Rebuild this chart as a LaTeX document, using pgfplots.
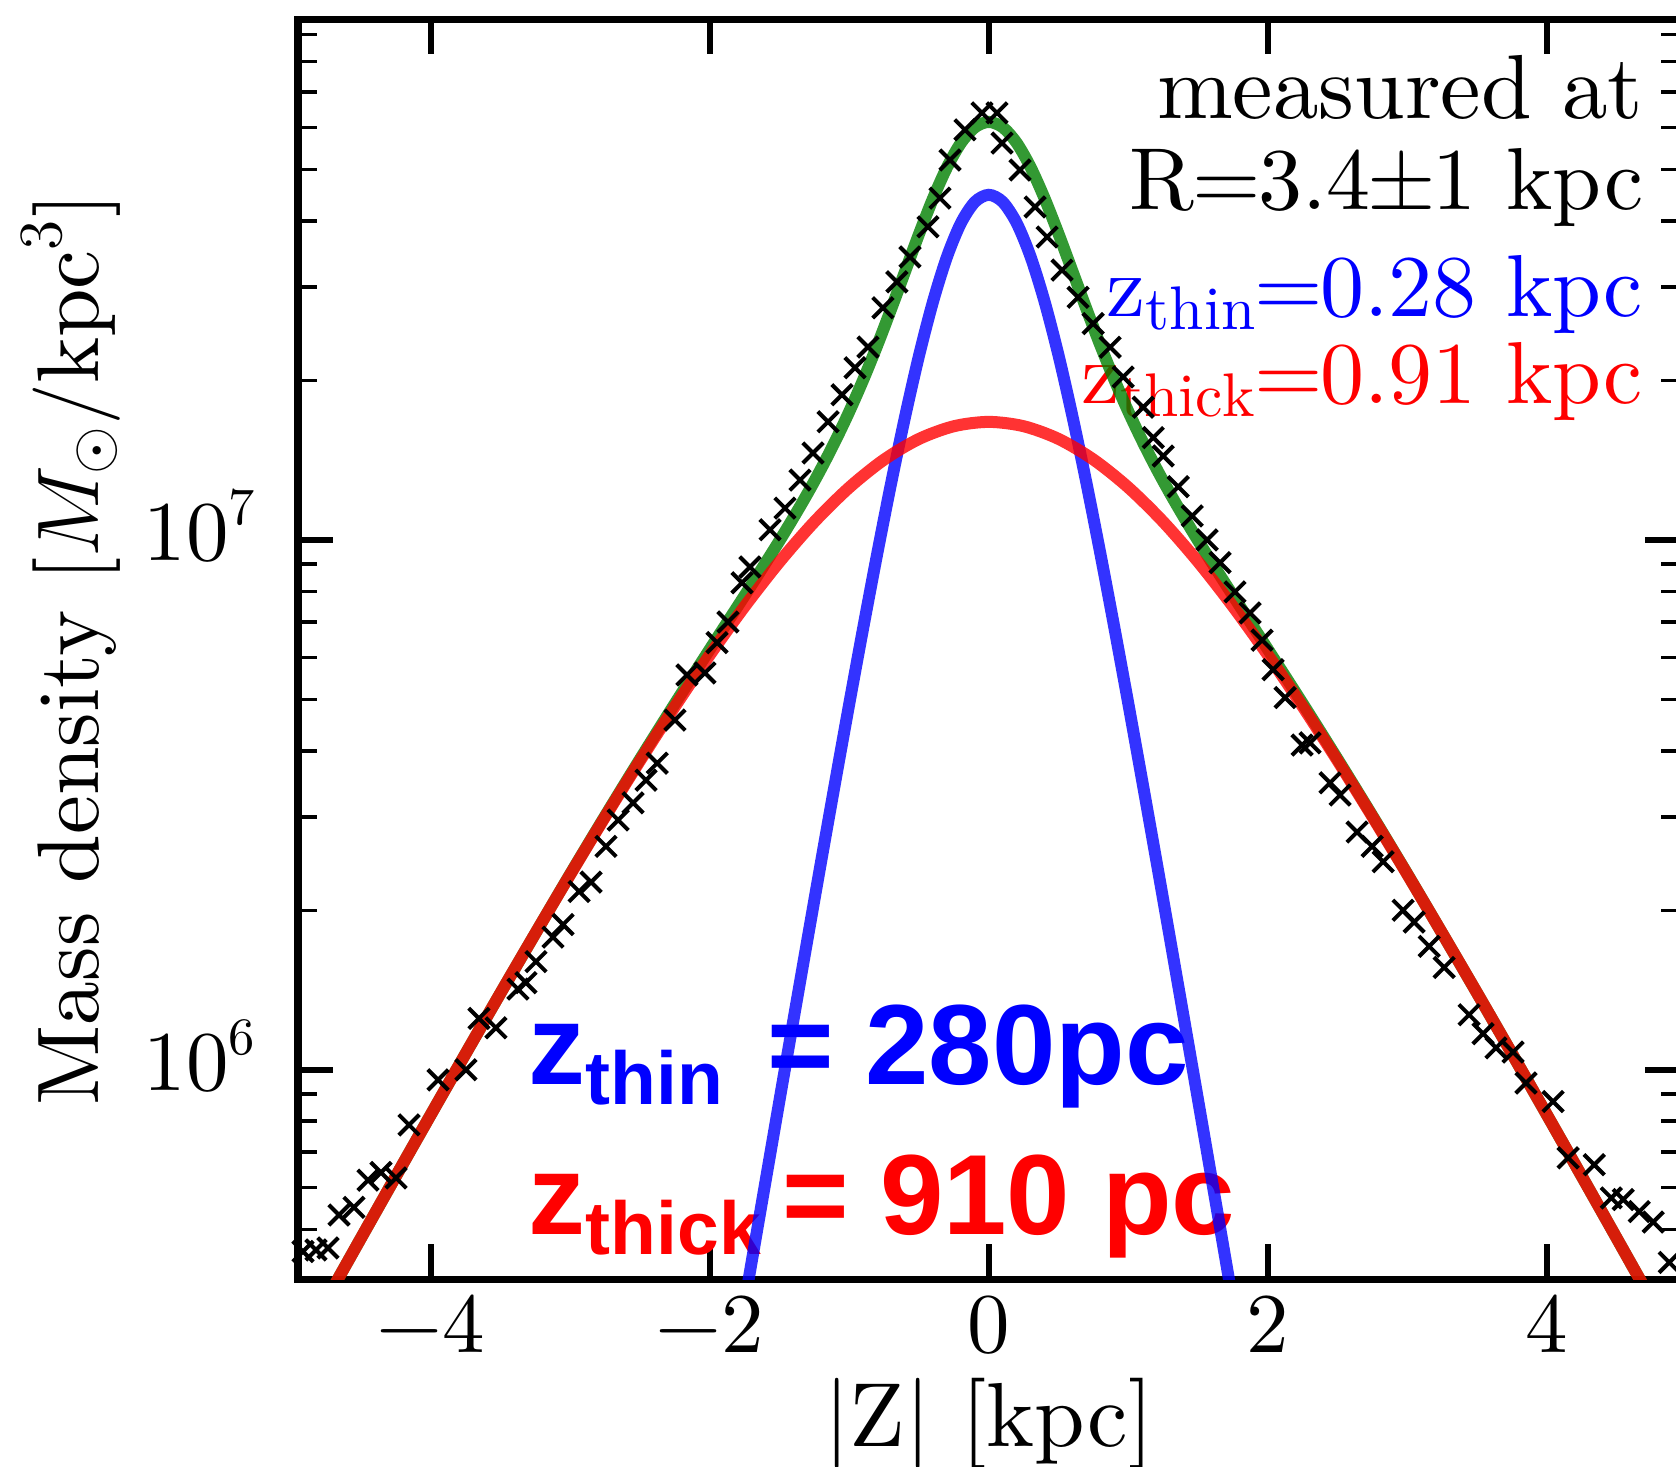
\RequirePackage{fix-cm}
\documentclass[border=0pt]{standalone}
\usepackage{fontspec}
\setmainfont{lmroman10-regular.otf}[BoldFont=lmroman10-bold.otf, ItalicFont=lmroman10-italic.otf]
\usepackage{pgfplots}
\pgfplotsset{compat=1.18}
\newfontfamily\hv{Liberation Sans}
\definecolor{mgreen}{rgb}{0,0.5,0}
\newcommand{\lab}{\fontsize{18.2}{21.8}\selectfont}
\newcommand{\alab}{\fontsize{17.6}{21}\selectfont}
\newcommand{\tlab}{\fontsize{17}{20}\selectfont}
\newcommand{\ylab}{\fontsize{17.5}{21}\selectfont}
\newcommand{\pw}[1]{10\raisebox{7.2pt}{\fontsize{10.5}{11}\selectfont #1}}
\newcommand{\bigz}{\hv\bfseries\fontsize{22.8}{26}\selectfont}
\newcommand{\subz}[1]{\raisebox{-4pt}{\fontsize{15}{17}\selectfont #1}}

% measured density profile (crosses)
\pgfplotstableread{
z rho
-4.916 4.54e5
-4.823 4.57e5
-4.737 4.61e5
-4.658 5.32e5
-4.551 5.50e5
-4.450 6.19e5
-4.357 6.40e5
-4.249 6.25e5
-4.156 7.87e5
-3.948 9.57e5
-3.748 1.00e6
-3.655 1.25e6
-3.533 1.20e6
-3.375 1.42e6
-3.318 1.46e6
-3.246 1.60e6
-3.124 1.78e6
-3.052 1.88e6
-2.937 2.17e6
-2.851 2.26e6
-2.744 2.64e6
-2.657 2.96e6
-2.550 3.19e6
-2.457 3.52e6
-2.377 3.79e6
-2.250 4.57e6
-2.164 5.56e6
-2.035 5.61e6
-1.948 6.40e6
-1.870 7.00e6
-1.769 8.30e6
-1.712 8.89e6
-1.568 1.045e7
-1.461 1.148e7
-1.353 1.297e7
-1.260 1.459e7
-1.152 1.671e7
-1.052 1.879e7
-0.959 2.113e7
-0.866 2.312e7
-0.759 2.742e7
-0.659 3.069e7
-0.565 3.420e7
-0.436 3.899e7
-0.350 4.416e7
-0.278 5.212e7
-0.171 5.943e7
-0.049 6.397e7
0.059 6.397e7
0.095 5.61e7
0.224 4.99e7
0.332 4.25e7
0.418 3.73e7
0.525 3.23e7
0.640 2.87e7
0.748 2.56e7
0.870 2.31e7
0.963 2.03e7
1.107 1.78e7
1.179 1.56e7
1.250 1.44e7
1.358 1.26e7
1.458 1.11e7
1.565 1.00e7
1.658 9.06e6
1.765 7.98e6
1.873 7.28e6
1.959 6.47e6
2.038 5.69e6
2.124 5.04e6
2.246 4.10e6
2.303 4.14e6
2.446 3.48e6
2.518 3.30e6
2.640 2.81e6
2.748 2.64e6
2.827 2.47e6
2.970 2.00e6
3.049 1.90e6
3.157 1.71e6
3.264 1.56e6
3.443 1.27e6
3.543 1.17e6
3.636 1.10e6
3.758 1.08e6
3.851 9.44e5
4.045 8.71e5
4.153 6.82e5
4.340 6.62e5
4.462 5.73e5
4.548 5.69e5
4.663 5.40e5
4.763 5.16e5
4.878 4.33e5
}\measured

% thin disc fit
\pgfplotstableread{
z rho
-1.9 2.15e5
-1.8 3.05e5
-1.7 4.34e5
-1.6 6.17e5
-1.5 8.77e5
-1.4 1.244e6
-1.3 1.762e6
-1.2 2.490e6
-1.1 3.505e6
-1.0 4.910e6
-0.9 6.831e6
-0.8 9.413e6
-0.7 1.280e7
-0.6 1.709e7
-0.5 2.229e7
-0.4 2.816e7
-0.3 3.421e7
-0.2 3.962e7
-0.1 4.343e7
0.0 4.480e7
0.1 4.343e7
0.2 3.962e7
0.3 3.421e7
0.4 2.816e7
0.5 2.229e7
0.6 1.709e7
0.7 1.280e7
0.8 9.413e6
0.9 6.831e6
1.0 4.910e6
1.1 3.505e6
1.2 2.490e6
1.3 1.762e6
1.4 1.244e6
1.5 8.77e5
1.6 6.17e5
1.7 4.34e5
1.8 3.05e5
1.9 2.15e5
}\thin

% thick disc fit
\pgfplotstableread{
z rho
-5.0 2.805e5
-4.75 3.677e5
-4.5 4.815e5
-4.25 6.299e5
-4.0 8.228e5
-3.75 1.073e6
-3.5 1.396e6
-3.25 1.810e6
-3.0 2.338e6
-2.75 3.003e6
-2.5 3.832e6
-2.25 4.848e6
-2.0 6.067e6
-1.75 7.490e6
-1.5 9.093e6
-1.25 1.082e7
-1.0 1.256e7
-0.75 1.418e7
-0.5 1.551e7
-0.25 1.639e7
0.0 1.670e7
0.25 1.639e7
0.5 1.551e7
0.75 1.418e7
1.0 1.256e7
1.25 1.082e7
1.5 9.093e6
1.75 7.490e6
2.0 6.067e6
2.25 4.848e6
2.5 3.832e6
2.75 3.003e6
3.0 2.338e6
3.25 1.810e6
3.5 1.396e6
3.75 1.073e6
4.0 8.228e5
4.25 6.299e5
4.5 4.815e5
4.75 3.677e5
5.0 2.805e5
}\thick

% total fit
\pgfplotstableread{
z rho
-5.0 2.805e5
-4.75 3.677e5
-4.5 4.815e5
-4.25 6.299e5
-4.0 8.228e5
-3.75 1.073e6
-3.5 1.396e6
-3.25 1.810e6
-3.0 2.342e6
-2.75 3.014e6
-2.5 3.858e6
-2.25 4.910e6
-2.0 6.217e6
-1.9 6.827e6
-1.8 7.495e6
-1.7 8.232e6
-1.6 9.051e6
-1.5 9.970e6
-1.4 1.102e7
-1.3 1.223e7
-1.2 1.366e7
-1.1 1.538e7
-1.0 1.747e7
-0.9 2.006e7
-0.8 2.328e7
-0.7 2.728e7
-0.6 3.212e7
-0.5 3.780e7
-0.4 4.409e7
-0.3 5.047e7
-0.2 5.612e7
-0.1 6.008e7
0.0 6.150e7
0.1 6.008e7
0.2 5.612e7
0.3 5.047e7
0.4 4.409e7
0.5 3.780e7
0.6 3.212e7
0.7 2.728e7
0.8 2.328e7
0.9 2.006e7
1.0 1.747e7
1.1 1.538e7
1.2 1.366e7
1.3 1.223e7
1.4 1.102e7
1.5 9.970e6
1.6 9.051e6
1.7 8.232e6
1.8 7.495e6
1.9 6.827e6
2.0 6.217e6
2.25 4.910e6
2.5 3.858e6
2.75 3.014e6
3.0 2.342e6
3.25 1.810e6
3.5 1.396e6
3.75 1.073e6
4.0 8.228e5
4.25 6.299e5
4.5 4.815e5
4.75 3.677e5
5.0 2.805e5
}\total

\begin{document}
\begin{tikzpicture}
\begin{axis}[
  scale only axis, width=276.4pt, height=252pt,
  xmin=-4.952, xmax=4.955,
  ymode=log, log basis y=10, ymin=4.02e5, ymax=9.6e7,
  xtick={-4,-2,0,2,4}, xticklabels={−4,−2,0,2,4},
  ytick={1e6,1e7}, yticklabels={\pw{6},\pw{7}},
  minor ytick={5e5,6e5,7e5,8e5,9e5,2e6,3e6,4e6,5e6,6e6,7e6,8e6,9e6,2e7,3e7,4e7,5e7,6e7,7e7,8e7,9e7},
  xtick pos=both, ytick pos=both, xticklabel pos=lower, yticklabel pos=left,
  tick align=inside,
  major tick length=7pt, minor tick length=3.8pt,
  major tick style={line width=1.2pt, black},
  minor tick style={line width=0.7pt, black},
  axis line style={line width=1.5pt},
  tick label style={font=\tlab, inner sep=0pt},
  xlabel style={font=\lab},
  ylabel style={font=\ylab},
  xticklabel style={anchor=base, yshift=-14.6pt},
  yticklabel style={anchor=base east, xshift=-8.4pt, yshift=-4.2pt},
  xlabel={$|$Z$|$ [kpc]},
  ylabel={Mass density [$M_\odot/\mathrm{kpc}^3$]},
  xlabel style={at={([yshift=-33.4pt]axis description cs:0.5,0)}, anchor=base},
  ylabel style={at={([xshift=-39.8pt]axis description cs:0,0.5)}, anchor=base},
]
\coordinate (bl) at (rel axis cs:0,0);
\coordinate (tr) at (rel axis cs:1,1);

\node[anchor=base east, inner sep=0pt, font=\lab] at (rel axis cs:0.974,0.9211) {measured at};
\node[anchor=base east, inner sep=0pt, font=\alab] at (rel axis cs:0.974,0.8489) {R\kern-0.5pt=\kern-0.5pt3.4\kern-0.6pt$\pm$\kern-0.6pt1 kpc};
\node[anchor=base east, inner sep=0pt, font=\alab, text=blue] at (rel axis cs:0.974,0.7640) {z$_{\mathrm{thin}}$\kern-0.6pt=\kern-0.6pt0.28 kpc};
\node[anchor=base east, inner sep=0pt, font=\alab, text=red] at (rel axis cs:0.974,0.6950) {z$_{\mathrm{thick}}$\kern-0.6pt=\kern-0.6pt0.91 kpc};

\node[anchor=base west, inner sep=0pt, text=blue] at (rel axis cs:0.1664,0.1547) {\bigz z\subz{thin}\kern8.8pt= 280pc};
\node[anchor=base west, inner sep=0pt, text=red] at (rel axis cs:0.1664,0.0357) {\bigz z\subz{thick}\kern4.2pt= 910 pc};

\addplot[mgreen, draw opacity=0.8, line width=2.4pt, smooth] table[x=z, y=rho] {\total};
\addplot[only marks, mark=x, mark size=2.9pt, mark options={line width=0.8pt, black}] table[x=z, y=rho] {\measured};
\addplot[blue, draw opacity=0.8, line width=2.4pt, smooth] table[x=z, y=rho] {\thin};
\addplot[red, draw opacity=0.8, line width=2.4pt, smooth] table[x=z, y=rho] {\thick};
\end{axis}
\pgfresetboundingbox
\path[use as bounding box] ([xshift=-59.6pt, yshift=-37.4pt]bl) rectangle ([xshift=-0.8pt, yshift=3.9pt]tr);
\end{tikzpicture}
\end{document}
